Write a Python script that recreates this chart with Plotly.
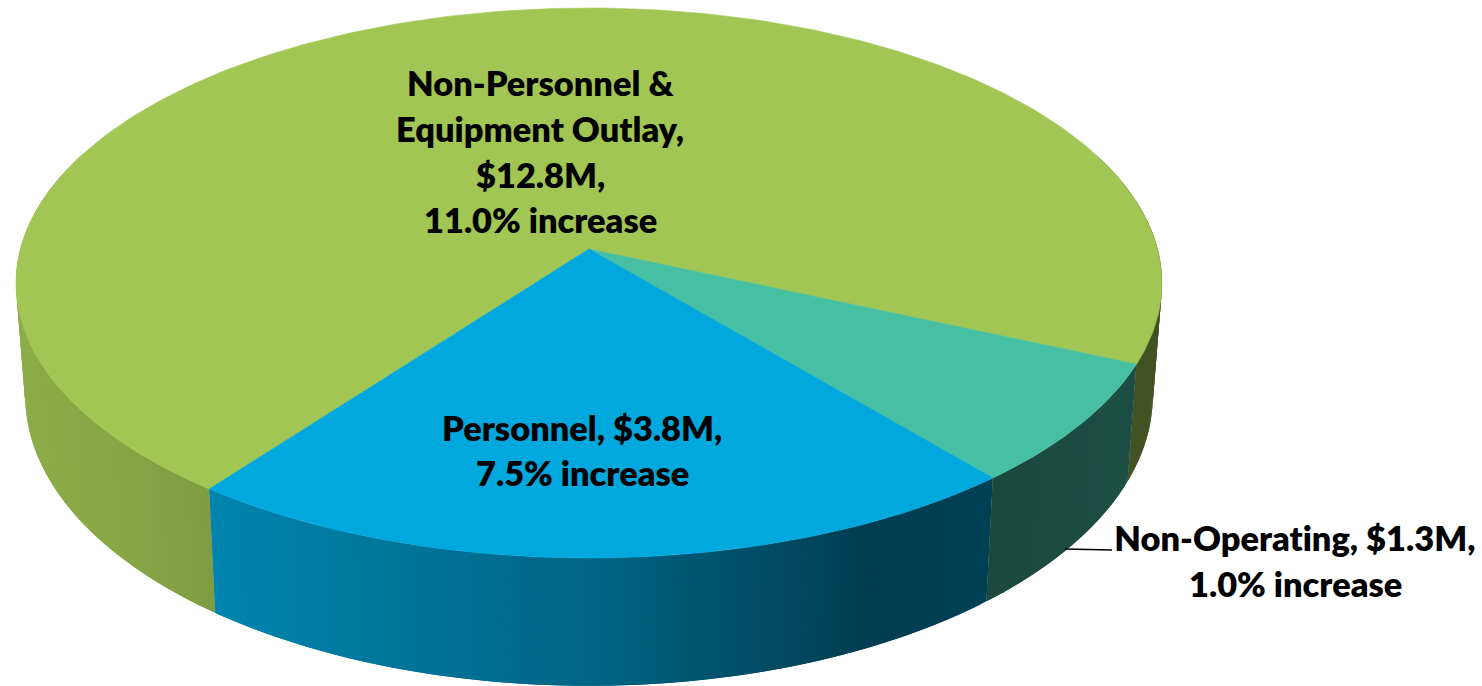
import math
import plotly.graph_objects as go

# ---- data ----
categories = ["Non-Personnel & Equipment Outlay", "Non-Operating", "Personnel"]
amounts_musd = [12.77, 1.30, 3.83]
increases_pct = [11.0, 1.0, 7.5]

# ---- style ----
top_colors = [(161, 198, 83), (71, 191, 163), (0, 168, 222)]
W, H = 1482, 686
START_DEG = 217.0        # first slice start, clockwise from the back of the pie
CX, CY = 589.0, 249.0    # projected pie centre
PERSP, AY, BX = -0.1236, 270.8, 568.6
FONT = "Lato"
FSIZE = 34.4


def project(deg):
    """Clockwise angle from the back of the pie -> top-face position (perspective)."""
    a = math.radians(deg)
    u, v = math.sin(a), -math.cos(a)
    d = 1 + PERSP * v
    return CX + BX * u / d, CY + AY * v / d, v


def lower(x, y):
    """Top-rim position -> matching position on the bottom rim."""
    return CX + 0.984 * (x - CX), 482 + 1.056 * (y - 365)


SHADE_X = [0, 30, 120, 209, 590, 863, 992, 1170]
SHADE_F = [0.88, 0.87, 0.84, 0.79, 0.60, 0.37, 0.38, 0.42]


def shade(x):
    for i in range(len(SHADE_X) - 1):
        if x <= SHADE_X[i + 1]:
            t = (x - SHADE_X[i]) / (SHADE_X[i + 1] - SHADE_X[i])
            return SHADE_F[i] + t * (SHADE_F[i + 1] - SHADE_F[i])
    return SHADE_F[-1]


total = sum(amounts_musd)
spans = [v / total * 360 for v in amounts_musd]
fig = go.Figure()

# side wall strips; each one overlaps the next so no seams show
start = START_DEG
strips = {0: [], 1: [], 2: []}
for idx, span in enumerate(spans):
    n = max(2, int(span / 0.75))
    for k in range(n):
        a0 = start + span * k / n
        a1 = start + span * (k + 1) / n
        a2 = start + span * min(k + 2, n) / n
        x0, y0, v0 = project(a0)
        x1, y1, v1 = project(a1)
        if max(v0, v1) < -0.35:
            continue
        xe, ye, _ = project(a2)
        bx0, by0 = lower(x0, y0)
        bx1, by1 = lower(x1, y1)
        bxe, bye = lower(xe, ye)
        f = shade((x0 + x1 + bx0 + bx1) / 4)
        r, g, b = top_colors[idx]
        col = f"rgb({r*f:.0f},{g*f:.0f},{b*f:.0f})"
        strips[idx].append(([x0, xe, bxe, bx0, x0], [y0, ye, bye, by0, y0], col))
    start += span

for order in (0, 2, 1):
    for xs, ys, col in strips[order]:
        fig.add_trace(go.Scatter(x=xs, y=ys, mode="lines", fill="toself", fillcolor=col,
                                 line=dict(width=0), hoverinfo="skip", showlegend=False))

# top face
start = START_DEG
for idx, span in enumerate(spans):
    n = int(span) + 2
    pts = [project(start + span * k / n) for k in range(n + 1)]
    xs = [CX] + [p[0] for p in pts] + [CX]
    ys = [CY] + [p[1] for p in pts] + [CY]
    col = "rgb(%d,%d,%d)" % top_colors[idx]
    fig.add_trace(go.Scatter(x=xs, y=ys, mode="lines", fill="toself", fillcolor=col,
                             line=dict(color=col, width=0.6), hoverinfo="skip", showlegend=False))
    start += span

# leader line
fig.add_shape(type="line", x0=1065, y0=549, x1=1112, y1=550, line=dict(color="black", width=1.4))

# labels
def money(i):
    return f"${amounts_musd[i]:.1f}M,"

def inc(i):
    return f"{increases_pct[i]:.1f}% increase"

label_lines = [
    ("Non-Personnel &", 540, 82), ("Equipment Outlay,", 540, 128), (money(0), 540, 174), (inc(0), 540, 219),
    (f"{categories[2]}, {money(2)}", 582, 427), (inc(2), 582, 472),
    (f"{categories[1]}, {money(1)}", 1295, 537), (inc(1), 1295, 583),
]
for text, x, y in label_lines:
    fig.add_annotation(x=x, y=y, text=text, showarrow=False, xanchor="center", yanchor="middle",
                       font=dict(family=FONT, size=FSIZE, color="#000000", weight=800))

fig.update_layout(
    width=W, height=H, autosize=False, margin=dict(l=0, r=0, t=0, b=0),
    paper_bgcolor="white", plot_bgcolor="white", showlegend=False,
    xaxis=dict(range=[0, W], visible=False, fixedrange=True),
    yaxis=dict(range=[H, 0], visible=False, fixedrange=True),
)
fig.write_html("out.html", config={"displayModeBar": False},
               post_script="document.body.style.margin='0';"
                           "document.documentElement.style.overflow='hidden';"
                           "var s=document.createElement('style');"
                           "s.textContent='text{font-variant-ligatures:none !important}';"
                           "document.head.appendChild(s);")
